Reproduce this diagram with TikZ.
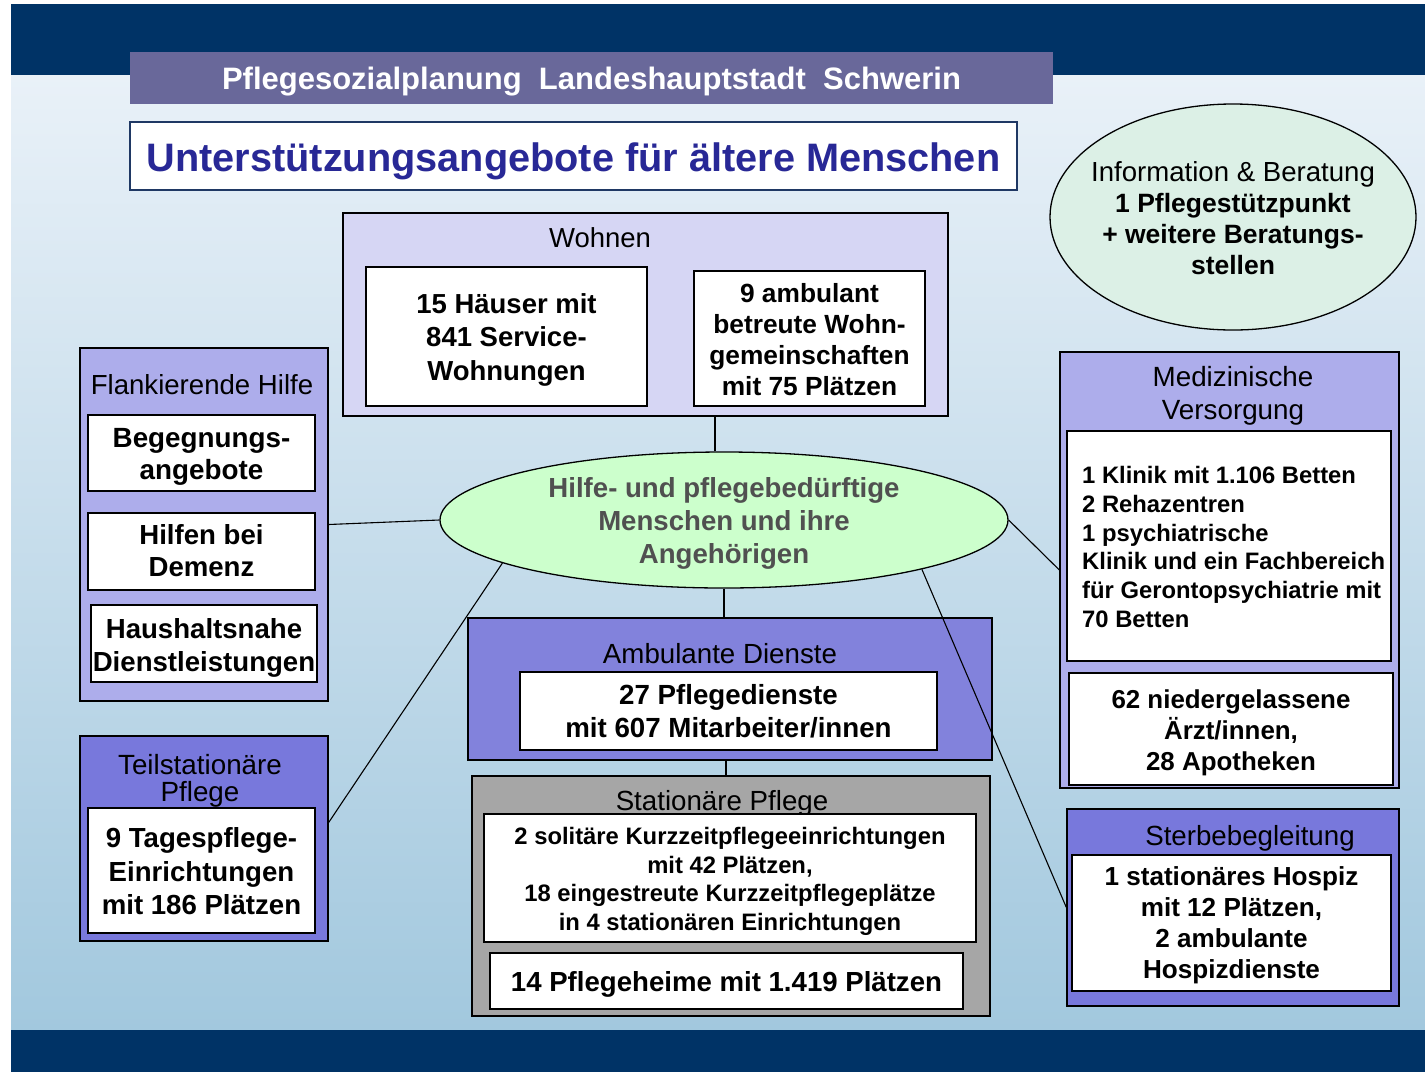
\documentclass[tikz,border=0pt]{standalone}
\usepackage{fontspec}
\setmainfont{Liberation Sans}
\usetikzlibrary{shapes.geometric}
\definecolor{bandc}{RGB}{0,51,102}
\definecolor{bgtop}{RGB}{233,241,248}
\definecolor{bgbot}{RGB}{162,200,222}
\definecolor{titlec}{RGB}{105,104,154}
\definecolor{subc}{RGB}{40,40,150}
\definecolor{subline}{RGB}{31,56,100}
\definecolor{wohnc}{RGB}{214,214,244}
\definecolor{lightc}{RGB}{173,173,235}
\definecolor{darkc}{RGB}{120,120,220}
\definecolor{ambc}{RGB}{130,130,220}
\definecolor{statc}{RGB}{166,166,166}
\definecolor{ctrc}{RGB}{204,255,204}
\definecolor{ctrtext}{RGB}{80,80,80}
\definecolor{infoc}{RGB}{220,240,230}
\newcommand\myfs[2]{\fontsize{#1}{#2}\selectfont}
\tikzset{
  grp/.style={draw=black, line width=1.3pt, inner sep=0pt},
  wbox/.style={grp, fill=white},
  lbl/.style={inner sep=0pt, align=center},
  conn/.style={draw=black, line width=1.1pt}
}
\begin{document}
\begin{tikzpicture}[x=1pt,y=-1pt]
\useasboundingbox (0,0) rectangle (1425,1072);
\fill[white] (0,0) rectangle (1425,1072);
% background
\fill[top color=bgtop, bottom color=bgbot] (11,75) rectangle (1425,1030);
\fill[bandc] (11,4) rectangle (1425,75);
\fill[bandc] (11,1030) rectangle (1425,1072);

% title
\node[fill=titlec, minimum width=923pt, minimum height=52pt, inner sep=0pt] (title) at (591.5,78) {};
\node[lbl, text=white, font=\bfseries\myfs{31}{34}] (titlet) at (591.5,82) {Pflegesozialplanung\ \ Landeshauptstadt\ \ Schwerin};
\node[draw=subline, line width=1.5pt, fill=white, minimum width=887pt, minimum height=68pt, inner sep=0pt] (sub) at (573.5,156) {};
\node[lbl, text=subc, font=\bfseries\myfs{39.7}{44}] (subt) at (573.5,161) {Unterstützungsangebote für ältere Menschen};

% info ellipse
\node[ellipse, draw=black, line width=1.3pt, fill=infoc, minimum width=366pt, minimum height=226pt, inner sep=0pt] (info) at (1233,217) {};
\node[lbl, font=\bfseries\myfs{26.5}{31}] (infot) at (1233,218.5) {{\mdseries\myfs{27.6}{31}Information \& Beratung}\\1 Pflegestützpunkt\\+ weitere Beratungs-\\stellen};

% Wohnen
\node[grp, fill=wohnc, minimum width=605pt, minimum height=203pt] (wohnen) at (645.5,314.5) {};
\node[lbl, font=\myfs{27.5}{31}] (wohnent) at (600,238) {Wohnen};
\node[wbox, minimum width=281pt, minimum height=139pt] (w1) at (506.5,336.5) {};
\node[lbl, font=\bfseries\myfs{27.5}{33.5}] (w1t) at (506.5,339.5) {15 Häuser mit\\841 Service-\\Wohnungen};
\node[wbox, minimum width=231pt, minimum height=135pt] (w2) at (809.5,338.5) {};
\node[lbl, font=\bfseries\myfs{26.3}{31}] (w2t) at (809.5,339.5) {9 ambulant\\betreute Wohn-\\gemeinschaften\\mit 75 Plätzen};

% Flankierende Hilfe
\node[grp, fill=lightc, minimum width=248pt, minimum height=353pt] (flank) at (204,524.5) {};
\node[lbl, font=\myfs{27.6}{31}] (flankt) at (202,385) {Flankierende Hilfe};
\node[wbox, minimum width=227pt, minimum height=76pt] (f1) at (201.5,453) {};
\node[lbl, font=\bfseries\myfs{27.8}{32}] (f1t) at (201.5,457) {Begegnungs-\\angebote};
\node[wbox, minimum width=227pt, minimum height=77pt] (f2) at (201.5,551.5) {};
\node[lbl, font=\bfseries\myfs{27.6}{32}] (f2t) at (201.5,550.5) {Hilfen bei\\Demenz};
\node[wbox, minimum width=226pt, minimum height=77pt] (f3) at (204,643.5) {};
\node[lbl, font=\bfseries\myfs{27.6}{33}] (f3t) at (204,647.5) {Haushaltsnahe\\Dienstleistungen};

% Teilstationaere Pflege
\node[grp, fill=darkc, minimum width=248pt, minimum height=205pt] (teil) at (204,838.5) {};
\node[lbl, font=\myfs{27.8}{27}] (teilt) at (200,781) {Teilstationäre\\Pflege};
\node[wbox, minimum width=227pt, minimum height=125pt] (t1) at (201.5,870.5) {};
\node[lbl, font=\bfseries\myfs{27.6}{33.5}] (t1t) at (201.5,871.5) {9 Tagespflege-\\Einrichtungen\\mit 186 Plätzen};

% central ellipse
\node[ellipse, draw=black, line width=1.3pt, fill=ctrc, minimum width=568pt, minimum height=136pt, inner sep=0pt] (ctr) at (724,520) {};
\node[lbl, text=ctrtext, font=\bfseries\myfs{27.6}{33}] (ctrt) at (724,523) {Hilfe- und pflegebedürftige\\Menschen und ihre\\Angehörigen};

% Ambulante Dienste
\node[grp, fill=ambc, minimum width=524pt, minimum height=142pt] (amb) at (730,689) {};
\node[lbl, font=\myfs{27.7}{31}] (ambt) at (720,654) {Ambulante Dienste};
\node[wbox, minimum width=417pt, minimum height=78pt] (a1) at (728.5,711) {};
\node[lbl, font=\bfseries\myfs{27.7}{33}] (a1t) at (728.5,711) {27 Pflegedienste\\mit 607 Mitarbeiter/innen};

% Stationaere Pflege
\node[grp, fill=statc, minimum width=518pt, minimum height=240pt] (stat) at (731,896) {};
\node[lbl, font=\myfs{27.7}{31}] (statt) at (722,803) {Stationäre Pflege};
\node[wbox, minimum width=492pt, minimum height=128pt] (s1) at (730,878) {};
\node[lbl, font=\bfseries\myfs{23.8}{28.7}] (s1t) at (730,881.5) {2 solitäre Kurzzeitpflegeeinrichtungen\\mit 42 Plätzen,\\18 eingestreute Kurzzeitpflegeplätze\\in 4 stationären Einrichtungen};
\node[wbox, minimum width=473pt, minimum height=56pt] (s2) at (726.5,981) {};
\node[lbl, font=\bfseries\myfs{27.6}{31}] (s2t) at (726.5,984) {14 Pflegeheime mit 1.419 Plätzen};

% Medizinische Versorgung
\node[grp, fill=lightc, minimum width=339pt, minimum height=436pt] (med) at (1229.5,570) {};
\node[lbl, font=\myfs{27.8}{33}] (medt) at (1233,396) {Medizinische\\Versorgung};
\node[wbox, minimum width=324pt, minimum height=230pt] (m1) at (1229,546) {};
\node[lbl, align=left, anchor=west, font=\bfseries\myfs{23.8}{28.8}] (m1t) at (1082,547) {1 Klinik mit 1.106 Betten\\2 Rehazentren\\1 psychiatrische\\Klinik und ein Fachbereich\\für Gerontopsychiatrie mit\\70 Betten};
\node[wbox, minimum width=324pt, minimum height=112pt] (m2) at (1231,729) {};
\node[lbl, font=\bfseries\myfs{25.9}{31}] (m2t) at (1231,732.5) {62 niedergelassene\\Ärzt/innen,\\28 Apotheken};

% Sterbebegleitung
\node[grp, fill=darkc, minimum width=332pt, minimum height=197pt] (sterbe) at (1233,907.5) {};
\node[lbl, font=\myfs{27.7}{31}] (sterbet) at (1250,838) {Sterbebegleitung};
\node[wbox, minimum width=319pt, minimum height=136pt] (st1) at (1231.5,923) {};
\node[lbl, font=\bfseries\myfs{26.1}{31}] (st1t) at (1231.5,925) {1 stationäres Hospiz\\mit 12 Plätzen,\\2 ambulante\\Hospizdienste};

% connectors
\draw[conn] ([xshift=-9pt]ctr.north) -- ([xshift=-9pt]ctr.north |- wohnen.south);
\draw[conn] (flank.east) -- (ctr.west);
\draw[conn] (ctr.191.6) -- ([yshift=16pt]teil.east);
\draw[conn] (ctr.south) -- (ctr.south |- amb.north);
\draw[conn] ([xshift=-4pt]amb.south) -- ([xshift=-4pt]amb.south |- stat.north);
\draw[conn] (ctr.east) -- (med.west);
\draw[conn] (ctr.346.6) -- (sterbe.west);
\end{tikzpicture}
\end{document}
